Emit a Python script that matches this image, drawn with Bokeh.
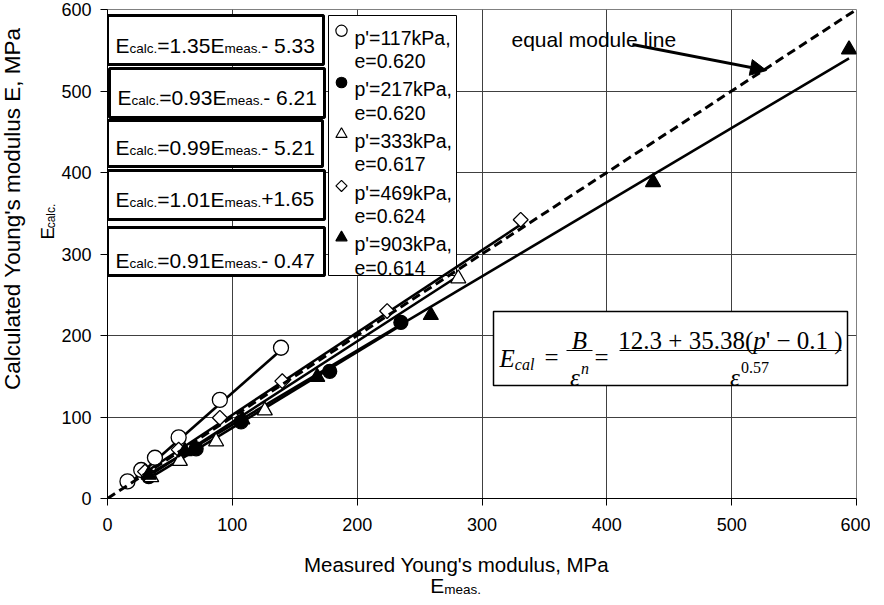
import math
from bokeh.plotting import figure
from bokeh.layouts import row, column
from bokeh.models import FixedTicker, Label, Arrow, NormalHead, BoxAnnotation, Range1d
from bokeh.embed import file_html
from bokeh.resources import INLINE

# ---------------- data ----------------
x_ticks = [0, 100, 200, 300, 400, 500, 600]
y_ticks = [0, 100, 200, 300, 400, 500, 600]

p_labels = ["117", "217", "333", "469", "903"]
e_labels = ["0.620", "0.620", "0.617", "0.624", "0.614"]

meas_117 = [16, 27, 38, 57, 90, 139]
calc_117 = [21, 35, 50, 75, 121, 185]
meas_217 = [33, 71, 107, 178, 235]
calc_217 = [27, 61, 94, 156, 216]
meas_333 = [35, 58, 87, 126, 281]
calc_333 = [26, 46, 70, 108, 270]
meas_469 = [30, 57, 90, 140, 224, 331]
calc_469 = [33, 60, 99, 144, 230, 342]
meas_903 = [33, 62, 108, 168, 259, 437, 594]
calc_903 = [29, 58, 97, 149, 225, 388, 551]

slopes = [1.35, 0.93, 0.99, 1.01, 0.91]
intercepts = [-5.33, -6.21, -5.21, 1.65, -0.47]

equal_x = [0, 600]
equal_y = [0, 600]

series_meas = [meas_117, meas_217, meas_333, meas_469, meas_903]
series_calc = [calc_117, calc_217, calc_333, calc_469, calc_903]

x_title = "Measured Young's modulus, MPa"
y_title = "Calculated Young's modulus E, MPa"

# ---------------- layout (page pixels) ----------------
MARGIN = 8
FL, FT, FW, FH = 113, 17, 749, 489     # plot frame in page pixels
LEFT_W = 58                            # left strip for the y titles
MAIN_BOTTOM = 548                      # page y where the main figure ends
BOT_H = 56                             # bottom strip for the x titles
B_LEFT = FL - MARGIN - LEFT_W
B_TOP = FT - MARGIN
B_BOTTOM = MAIN_BOTTOM - (FT + FH)
B_RIGHT = 14
MAIN_W = B_LEFT + FW + B_RIGHT
MAIN_H = B_TOP + FH + B_BOTTOM


def dx(px):
    return (px - FL) / FW * 600.0


def dy(py):
    return (FT + FH - py) / FH * 600.0


AR = {' ': 278, "'": 191, '+': 584, ',': 278, '-': 333, '.': 278, '=': 584,
      'E': 667, 'M': 833, 'P': 667, 'Y': 667, 'C': 722, 'a': 556, 'c': 500,
      'd': 556, 'e': 556, 'g': 556, 'k': 500, 'l': 222, 'm': 833, 'n': 556,
      'o': 556, 'p': 556, 'q': 556, 'r': 333, 's': 500, 't': 278, 'u': 556,
      'i': 222}
TR = {' ': 250, '(': 333, ')': 333, '+': 564, '.': 250, '=': 564, '\u2212': 564,
      "'": 180}
TI = {'E': 611, 'B': 611, 'c': 444, 'a': 500, 'l': 278, 'p': 500, 'n': 500,
      '\u03b5': 439}

SANS = "Liberation Sans"
SERIF = "Liberation Serif"


def tw(text, size, font, style):
    if font == SANS:
        tab, dflt = AR, 556
    elif style == "italic":
        tab, dflt = TI, 500
    else:
        tab, dflt = TR, 500
    return sum(tab.get(ch, dflt) for ch in text) / 1000.0 * size


def mk_label(x, y, text, size, font=SANS, style="normal", align="left",
             baseline="alphabetic", angle=0.0):
    return Label(x=x, y=y, text=text, text_font=font, text_font_size=f"{size}px",
                 text_font_style=style, text_align=align, text_baseline=baseline,
                 text_color="black", angle=angle)


# ---------------- main figure ----------------
p = figure(frame_width=FW, frame_height=FH, x_range=(0, 600), y_range=(0, 600),
           output_backend="svg", toolbar_location=None,
           min_border_left=B_LEFT, min_border_right=B_RIGHT,
           min_border_top=B_TOP, min_border_bottom=B_BOTTOM)
p.background_fill_color = "white"
p.border_fill_color = "white"
p.outline_line_color = "#808080"
p.outline_line_width = 1

for ax, ticks in ((p.xaxis, x_ticks), (p.yaxis, y_ticks)):
    ax.ticker = FixedTicker(ticks=ticks)
    ax.major_label_text_font = SANS
    ax.major_label_text_font_size = "18px"
    ax.major_label_text_color = "black"
    ax.axis_line_color = "black"
    ax.major_tick_line_color = "black"
    ax.major_tick_out = 7
    ax.major_tick_in = 0
    ax.minor_tick_line_color = None
p.xaxis.major_label_standoff = 12
p.yaxis.major_label_standoff = 9

p.xgrid.ticker = FixedTicker(ticks=x_ticks)
p.ygrid.ticker = FixedTicker(ticks=y_ticks)
p.grid.grid_line_color = "#404040"
p.grid.grid_line_width = 1


def add_label(*args, **kw):
    p.add_layout(mk_label(*args, **kw))


def run(segs, x0, base):
    x = x0
    for text, size, off, font, style in segs:
        add_label(dx(x), dy(base + off), text, size, font, style)
        x += tw(text, size, font, style)


def box(l, r, t, b, lw):
    p.add_layout(BoxAnnotation(left=dx(l), right=dx(r), top=dy(t), bottom=dy(b),
                               fill_color="white", fill_alpha=1.0,
                               line_color="black", line_width=lw,
                               line_alpha=1.0, level="underlay"))


# ---------------- series ----------------
styles = [
    dict(marker="circle", fill_color="white", size=15, angle=0.0),
    dict(marker="circle", fill_color="black", size=14, angle=0.0),
    dict(marker="triangle", fill_color="white", size=15, angle=0.0),
    dict(marker="square", fill_color="white", size=10.5, angle=math.pi / 4),
    dict(marker="triangle", fill_color="black", size=15, angle=0.0),
]

for xs, ys, a, b in zip(series_meas, series_calc, slopes, intercepts):
    lx = [min(xs), max(xs)]
    ly = [a * v + b for v in lx]
    p.line(lx, ly, line_color="black", line_width=2.6)

for xs, ys, st in zip(series_meas, series_calc, styles):
    p.scatter(xs, ys, marker=st["marker"], size=st["size"], angle=st["angle"],
              fill_color=st["fill_color"], line_color="black", line_width=1.3)

p.line(equal_x, equal_y, line_color="black", line_width=3, line_dash="9 5")

# ---------------- equation boxes ----------------
eq_boxes = [(113, 329, 23, 72, 121, 52.7), (115, 330, 76, 125, 123, 104.5),
            (113, 328, 128, 174, 121, 155), (113, 330, 178, 227, 121, 206.7),
            (113, 330, 235, 283, 121, 268.3)]


def fmt_b(b):
    return f"- {abs(b):.2f}" if b < 0 else f"+{b:.2f}"


for (l, r, t, bt, tx, base), a, b in zip(eq_boxes, slopes, intercepts):
    box(l, r, t, bt, 3)
    run([("E", 21, 0, SANS, "normal"), ("calc.", 13.5, 3, SANS, "normal"),
         (f"={a:.2f}E", 21, 0, SANS, "normal"), ("meas.", 13.5, 3, SANS, "normal"),
         (fmt_b(b), 21, 0, SANS, "normal")], tx, base)

# ---------------- legend ----------------
box(334, 462, 23, 283, 1)
for i, (pl, el, st) in enumerate(zip(p_labels, e_labels, styles)):
    b1 = 45 + 51.7 * i
    msize = st["size"] * 0.75
    p.scatter([dx(347)], [dy(b1 - 6.7)], marker=st["marker"], size=msize,
              angle=st["angle"], fill_color=st["fill_color"], line_color="black",
              line_width=1.2)
    add_label(dx(360), dy(b1), f"p'={pl}kPa,", 19.5)
    add_label(dx(360), dy(b1 + 23.5), f"e={el}", 19.5)

# ---------------- formula box ----------------
box(499, 853, 319, 393, 1.5)
run([("E", 25, 0, SERIF, "italic"), ("cal", 16, 6, SERIF, "italic")], 505, 366)
add_label(dx(550), dy(365), "=", 25, SERIF)
add_label(dx(600), dy(365), "=", 25, SERIF)


def bar(x0, x1, y):
    p.add_layout(Arrow(end=None, start=None, x_start=dx(x0), y_start=dy(y),
                       x_end=dx(x1), y_end=dy(y), line_color="black",
                       line_width=1.2))


bar(572, 598, 358)
bar(625, 847, 358)
add_label(dx(585), dy(348), "B", 25, SERIF, "italic", align="center")
den1 = [("\u03b5", 25, 0, SERIF, "italic"), ("n", 16, -9, SERIF, "italic")]
w1 = sum(tw(s[0], s[1], s[3], s[4]) for s in den1)
run(den1, 585 - w1 / 2, 385)
num = [("12.3 + 35.38(", 25, 0, SERIF, "normal"), ("p", 25, 0, SERIF, "italic"),
       ("' \u2212 0.1 )", 25, 0, SERIF, "normal")]
wn = sum(tw(s[0], s[1], s[3], s[4]) for s in num)
run(num, 736 - wn / 2, 348)
den2 = [("\u03b5", 25, 0, SERIF, "italic"), ("0.57", 16, -10, SERIF, "normal")]
w2 = sum(tw(s[0], s[1], s[3], s[4]) for s in den2)
run(den2, 755 - w2 / 2, 385)

# ---------------- arrow & annotation ----------------
add_label(dx(517), dy(47), "equal module line", 21)
p.add_layout(Arrow(end=NormalHead(size=16, fill_color="black", line_color="black"),
                   x_start=dx(638), y_start=dy(52), x_end=dx(772), y_end=dy(78),
                   line_color="black", line_width=3))


# ---------------- title strips (own small figures) ----------------
def strip(w, h):
    q = figure(width=w, height=h, x_range=Range1d(0, w), y_range=Range1d(h, 0),
               output_backend="svg", toolbar_location=None,
               x_axis_location=None, y_axis_location=None, min_border=0)
    q.min_border_left = q.min_border_right = 0
    q.min_border_top = q.min_border_bottom = 0
    q.outline_line_color = None
    q.background_fill_color = "white"
    q.border_fill_color = "white"
    q.grid.visible = False
    return q


# left strip: page x from MARGIN to MARGIN + LEFT_W, page y from MARGIN
ql = strip(LEFT_W, MAIN_H)


def lx_(px):
    return px - MARGIN


def ly_(py):
    return py - MARGIN


ql.add_layout(mk_label(lx_(20), ly_(228), y_title, 22.5, align="center",
                       baseline="middle", angle=math.pi / 2))
ye = 262.0
for text, size, off in (("E", 18.5, 0), ("calc.", 12, 3)):
    ql.add_layout(mk_label(lx_(55 + off), ly_(ye), text, size, angle=math.pi / 2))
    ye -= tw(text, size, SANS, "normal")

# bottom strip: page y from MAIN_BOTTOM
qb = strip(LEFT_W + MAIN_W, BOT_H)


def bx_(px):
    return px - MARGIN


def by_(py):
    return py - MAIN_BOTTOM


qb.add_layout(mk_label(bx_(464), by_(572), x_title, 20.5, align="center"))
xe = 437.7
for text, size, off in (("E", 21, 0), ("meas.", 13.5, 4)):
    qb.add_layout(mk_label(bx_(xe), by_(593 + off), text, size))
    xe += tw(text, size, SANS, "normal")

layout = column(row(ql, p, spacing=0), qb, spacing=0)
open("out.html", "w").write(file_html(layout, INLINE))
